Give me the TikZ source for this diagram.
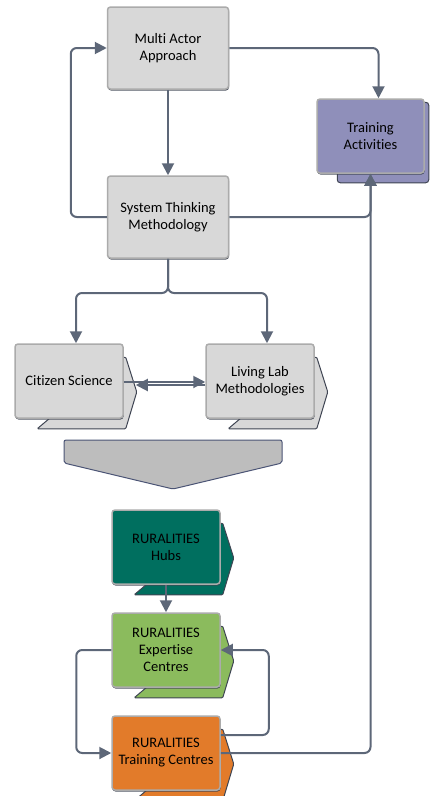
\documentclass[tikz,border=0pt]{standalone}
\usepackage{fontspec}
\setmainfont[Ligatures=NoCommon]{Carlito}
\usetikzlibrary{arrows.meta,shadows,backgrounds}

\definecolor{linegray}{HTML}{5D6778}
\definecolor{boxedge}{HTML}{ABABAB}
\definecolor{shadowgray}{HTML}{3F4553}
\definecolor{boxfill}{HTML}{D8D8D8}
\definecolor{lilac}{HTML}{8F8FBA}
\definecolor{teal}{HTML}{006F5F}
\definecolor{leaf}{HTML}{8BBB5D}
\definecolor{rust}{HTML}{E27B2A}
\definecolor{bandgray}{HTML}{BDBDBD}
\definecolor{bandedge}{HTML}{4B5475}

\tikzset{
  box/.style={draw=boxedge, line width=1.5pt, rounded corners=3pt, align=center,
    font=\fontsize{14.5}{17}\selectfont, inner sep=2pt,
    drop shadow={shadow xshift=0.5pt, shadow yshift=-1.5pt, fill=shadowgray, opacity=0.9}},
  wide/.style={box, minimum width=121pt, minimum height=82pt},
  small/.style={box, minimum width=108pt, minimum height=74pt},
  arr/.style={draw=linegray, line width=2pt, rounded corners=6pt,
    -{Triangle[length=12pt,width=12pt]}}
}

\newcommand{\backchev}[2]{%
  \filldraw[fill=#2, draw=shadowgray, line width=1pt, rounded corners=1pt]
    ([shift={(23,-10)}]#1.south west) -- ([shift={(2,-10)}]#1.south east)
    -- ([shift={(13,-11)}]#1.east) -- ([shift={(2,-14)}]#1.north east)
    -- ([shift={(-2,-14)}]#1.north east) -- cycle;}

\begin{document}
\begin{tikzpicture}[x=1pt,y=1pt]
\useasboundingbox (0,0) rectangle (430,-796);

\node[wide, fill=boxfill] (maa) at (168,-48) {Multi Actor\\Approach};
\node[wide, fill=boxfill] (stm) at (168,-217) {System Thinking\\Methodology};
\node[small, fill=lilac, minimum width=107pt] (ta) at (370.5,-136) {Training\\Activities};
\node[small, fill=boxfill] (cs) at (69,-381) {Citizen Science};
\node[small, fill=boxfill] (ll) at (260,-381) {Living Lab\\Methodologies};
\node[small, fill=teal] (hub) at (166,-547) {RURALITIES\\Hubs};
\node[small, fill=leaf] (ec) at (166,-650) {RURALITIES\\Expertise\\Centres};
\node[small, fill=rust] (tc) at (166,-753) {RURALITIES\\Training Centres};

\begin{pgfonlayer}{background}
\filldraw[fill=lilac, draw=shadowgray, line width=1pt, rounded corners=3pt]
  ([shift={(21,-9)}]ta.south west) rectangle ([shift={(4,-4)}]ta.north east);
\backchev{cs}{boxfill}
\backchev{ll}{boxfill}
\backchev{hub}{teal}
\backchev{ec}{leaf}
\backchev{tc}{rust}
\end{pgfonlayer}

\filldraw[fill=bandgray, draw=bandedge, line width=1pt, rounded corners=2pt]
  (64,-440) -- (282,-440) -- (282,-463) -- (173,-489) -- (64,-463) -- cycle;

\coordinate (sp) at (168,-293);

\draw[arr] (maa) -- (stm);
\draw[arr] (maa.east) -| ([xshift=8]ta.north);
\draw[arr] (stm.west) -- ++(-36,0) |- (maa.west);
\draw[arr] (stm.east) -| (ta.south);
\draw[arr] (tc.east) -| (ta.south);
\draw[arr] (stm.south) -- (sp) -| ([xshift=7]cs.north);
\draw[arr] (stm.south) -- (sp) -| ([xshift=7]ll.north);
\draw[arr, rounded corners=0pt] ([yshift=-1]cs.east) -- ([yshift=-1]ll.west);
\draw[arr, rounded corners=0pt, shorten >=12pt] ([yshift=-4]ll.west) -- ([yshift=-4]cs.east);
\draw[arr] (hub) -- (ec);
\draw[arr] (ec.west) -- ++(-35,0) |- (tc.west);
\draw[arr] ([yshift=18]tc.east) -- ++(48,0) |- (ec.east);
\end{tikzpicture}
\end{document}
